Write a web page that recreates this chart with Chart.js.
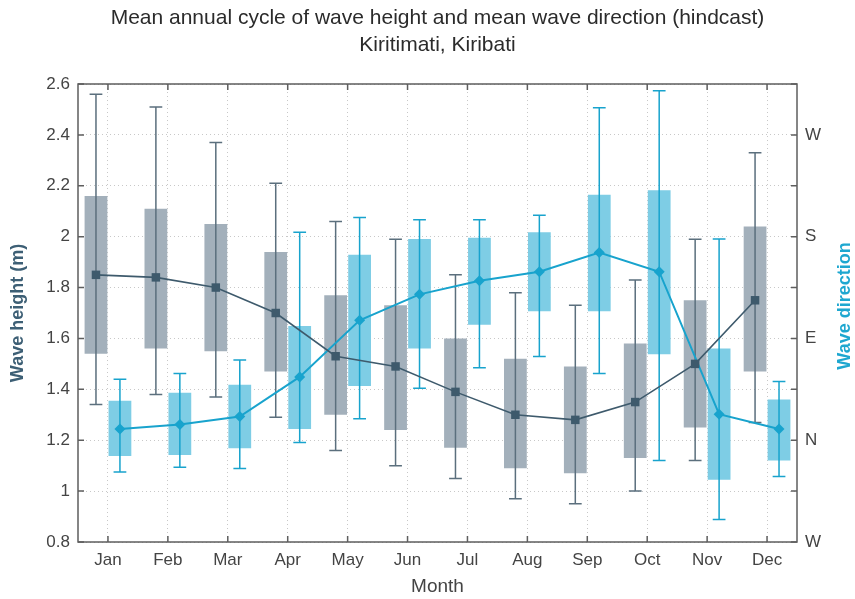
<!DOCTYPE html>
<html>
<head>
<meta charset="utf-8">
<script src="https://cdn.jsdelivr.net/npm/chart.js@4.4.1/dist/chart.umd.min.js"></script>
<style>
body { margin: 0; background: #fff; }
#wrap { width: 855px; height: 599px; }
</style>
</head>
<body>
<div id="wrap"><canvas id="waveChart"></canvas></div>
<script>
const months = ['Jan', 'Feb', 'Mar', 'Apr', 'May', 'Jun', 'Jul', 'Aug', 'Sep', 'Oct', 'Nov', 'Dec'];

// wave height (m)
const heightMax  = [2.56, 2.51, 2.37, 2.21, 2.06, 1.99, 1.85, 1.78, 1.73, 1.83, 1.99, 2.33];
const heightQ3   = [2.16, 2.11, 2.05, 1.94, 1.77, 1.73, 1.60, 1.52, 1.49, 1.58, 1.75, 2.04];
const heightMean = [1.85, 1.84, 1.80, 1.70, 1.53, 1.49, 1.39, 1.30, 1.28, 1.35, 1.50, 1.75];
const heightQ1   = [1.54, 1.56, 1.55, 1.47, 1.30, 1.24, 1.17, 1.09, 1.07, 1.13, 1.25, 1.47];
const heightMin  = [1.34, 1.38, 1.37, 1.29, 1.16, 1.10, 1.05, 0.97, 0.95, 1.00, 1.12, 1.27];

// wave direction (degrees from N, W below N shown as -90)
const dirMax  = [54, 59, 71, 184, 197, 195, 195, 199, 294, 309, 178, 52];
const dirQ3   = [35, 42, 49, 101, 164, 178, 179, 184, 217, 221, 81, 36];
const dirMean = [10, 14, 21, 56, 106, 129, 141, 149, 166, 149, 23, 10];
const dirQ1   = [-14, -13, -7, 10, 48, 81, 102, 114, 114, 76, -35, -18];
const dirMin  = [-28, -24, -25, -2, 19, 46, 64, 74, 59, -18, -70, -32];

const compass = { '-90': 'W', '0': 'N', '90': 'E', '180': 'S', '270': 'W' };

const titleLines = ['Mean annual cycle of wave height and mean wave direction (hindcast)', 'Kiritimati, Kiribati'];

const slate = '#3e5a6c';
const slateBox = '#a3b0bb';
const cyan = '#18a3cd';
const cyanBox = '#7ecde5';
const fontFam = '"Liberation Sans", Arial, Helvetica, sans-serif';

const pairs = (lo, hi) => lo.map((v, i) => [v, hi[i]]);

const boxExtras = {
    id: 'boxExtras',
    afterDatasetsUpdate(chart) {
        chart.data.datasets.forEach((ds, i) => {
            if (ds.followBars === undefined) return;
            const bars = chart.getDatasetMeta(ds.followBars).data;
            chart.getDatasetMeta(i).data.forEach((pt, j) => { pt.x = bars[j].x; });
        });
    },
    afterDatasetDraw(chart, args) {
        const ds = chart.data.datasets[args.index];
        if (!ds.whiskerLow) return;
        const yScale = chart.scales[args.meta.yAxisID];
        const ctx = chart.ctx;
        ctx.save();
        ctx.strokeStyle = ds.whiskerColor;
        ctx.lineWidth = 1.5;
        args.meta.data.forEach((bar, j) => {
            const top = yScale.getPixelForValue(ds.whiskerHigh[j]);
            const bot = yScale.getPixelForValue(ds.whiskerLow[j]);
            const half = bar.width * 0.28;
            ctx.beginPath();
            ctx.moveTo(bar.x, top); ctx.lineTo(bar.x, bot);
            ctx.moveTo(bar.x - half, top); ctx.lineTo(bar.x + half, top);
            ctx.moveTo(bar.x - half, bot); ctx.lineTo(bar.x + half, bot);
            ctx.stroke();
        });
        ctx.restore();
    },
    afterDraw(chart) {
        const ctx = chart.ctx;
        const a = chart.chartArea;
        const x = chart.scales.x, y = chart.scales.y, y2 = chart.scales.y2;
        ctx.save();
        ctx.strokeStyle = '#5e5e5e';
        ctx.lineWidth = 1.5;
        ctx.strokeRect(a.left, a.top, a.right - a.left, a.bottom - a.top);
        ctx.beginPath();
        x.ticks.forEach((t, i) => {
            const px = x.getPixelForTick(i);
            ctx.moveTo(px, a.bottom); ctx.lineTo(px, a.bottom - 6);
            ctx.moveTo(px, a.top); ctx.lineTo(px, a.top + 6);
        });
        y.ticks.forEach((t, i) => {
            const py = y.getPixelForTick(i);
            ctx.moveTo(a.left, py); ctx.lineTo(a.left + 6, py);
        });
        y2.ticks.forEach((t, i) => {
            const py = y2.getPixelForTick(i);
            ctx.moveTo(a.right, py); ctx.lineTo(a.right - 6, py);
        });
        ctx.stroke();

        // chart title, centred over the plot area
        ctx.fillStyle = '#2b2b2b';
        ctx.font = '21px ' + fontFam;
        ctx.textAlign = 'center';
        ctx.textBaseline = 'middle';
        const cx = (a.left + a.right) / 2;
        ctx.fillText(titleLines[0], cx, 18);
        ctx.fillText(titleLines[1], cx, 45);

        // right axis title reads bottom to top
        ctx.translate(845, (a.top + a.bottom) / 2 - 7);
        ctx.rotate(-Math.PI / 2);
        ctx.fillStyle = '#1ea7d0';
        ctx.font = 'bold 18px ' + fontFam;
        ctx.fillText('Wave direction', 0, 0);
        ctx.restore();
    }
};

const ctx = document.getElementById('waveChart').getContext('2d');
const waveChart = new Chart(ctx, {
    data: {
        labels: months,
        datasets: [{
            type: 'bar',
            label: 'Wave height',
            data: pairs(heightQ1, heightQ3),
            whiskerLow: heightMin,
            whiskerHigh: heightMax,
            whiskerColor: '#5b6f7d',
            backgroundColor: slateBox,
            borderWidth: 0,
            yAxisID: 'y',
            categoryPercentage: 0.8,
            barPercentage: 0.95,
            order: 2
        }, {
            type: 'bar',
            label: 'Wave direction',
            data: pairs(dirQ1, dirQ3),
            whiskerLow: dirMin,
            whiskerHigh: dirMax,
            whiskerColor: cyan,
            backgroundColor: cyanBox,
            borderWidth: 0,
            yAxisID: 'y2',
            categoryPercentage: 0.8,
            barPercentage: 0.95,
            order: 2
        }, {
            type: 'line',
            label: 'Mean wave height',
            data: heightMean,
            followBars: 0,
            borderColor: slate,
            backgroundColor: slate,
            borderWidth: 1.6,
            pointStyle: 'rect',
            pointRadius: 6,
            pointBorderWidth: 0,
            tension: 0,
            yAxisID: 'y',
            order: 1
        }, {
            type: 'line',
            label: 'Mean wave direction',
            data: dirMean,
            followBars: 1,
            borderColor: cyan,
            backgroundColor: cyan,
            borderWidth: 2,
            pointStyle: 'rectRot',
            pointRadius: 5.5,
            pointBorderWidth: 0,
            tension: 0,
            yAxisID: 'y2',
            order: 1
        }]
    },
    options: {
        responsive: true,
        maintainAspectRatio: false,
        animation: false,
        layout: { padding: { top: 84, left: 0, right: 0, bottom: 0 } },
        plugins: {
            legend: { display: false },
            title: { display: false },
            tooltip: { enabled: false }
        },
        scales: {
            x: {
                offset: true,
                grid: { offset: false, color: '#c8c8c8', lineWidth: 1, drawTicks: false },
                border: { display: false, dash: [1, 3] },
                ticks: { color: '#444', font: { family: fontFam, size: 17 }, padding: 8 },
                title: { display: true, text: 'Month', color: '#444', font: { family: fontFam, size: 19 }, padding: { top: 0, bottom: 1 } },
                afterFit(scale) { scale.height = 57; }
            },
            y: {
                position: 'left',
                min: 0.8,
                max: 2.6,
                grid: { color: '#c8c8c8', lineWidth: 1, drawTicks: false },
                border: { display: false, dash: [1, 3] },
                ticks: { stepSize: 0.2, color: '#444', font: { family: fontFam, size: 17 }, padding: 8,
                    callback: v => Math.round(v * 10) / 10 },
                title: { display: true, text: 'Wave height (m)', color: '#3d5f75', font: { family: fontFam, size: 18, weight: 'bold' }, padding: { top: 7, bottom: 0 } },
                afterFit(scale) { scale.width = 78; }
            },
            y2: {
                position: 'right',
                min: -90,
                max: 315,
                grid: { drawOnChartArea: false, drawTicks: false },
                border: { display: false },
                ticks: { stepSize: 45, color: '#444', font: { family: fontFam, size: 17 }, padding: 8,
                    callback: v => compass[String(v)] || '' },
                afterFit(scale) { scale.width = 58; }
            }
        }
    },
    plugins: [boxExtras]
});
</script>
</body>
</html>
